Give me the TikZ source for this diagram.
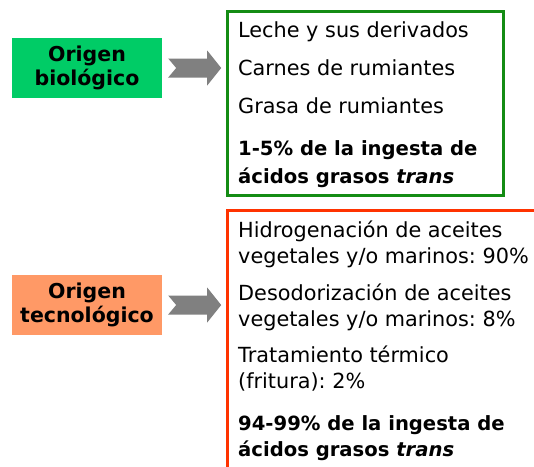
\documentclass[tikz,border=0pt]{standalone}
\usepackage{fontspec}
\setmainfont{DejaVu Sans}
\frenchspacing
\definecolor{biogreen}{RGB}{0,204,102}
\definecolor{tecorange}{RGB}{255,153,102}
\definecolor{boxgreen}{RGB}{20,140,20}
\definecolor{boxred}{RGB}{255,51,0}
\definecolor{arrowgray}{RGB}{128,128,128}
\begin{document}
\begin{tikzpicture}[x=1pt,y=-1pt,
  origin/.style={minimum width=150pt, minimum height=60pt, inner sep=0pt, align=center,
    font=\fontsize{20.5}{24}\selectfont\bfseries},
  listbox/.style={draw, line width=3pt, inner sep=0pt},
  item/.style={anchor=base west, inner sep=0pt, font=\fontsize{20.8}{24}\selectfont},
  bolditem/.style={item, font=\fontsize{19.6}{24}\selectfont\bfseries},
  blockarrow/.style={fill=arrowgray}]
\useasboundingbox (0,0) rectangle (534,466);
\clip (0,0) rectangle (534,466);
\fill[white] (0,0) rectangle (534,466);

% left labels
\node[origin, fill=biogreen] (bio) at (87,68) {Origen\\biológico};
\node[origin, fill=tecorange] (tec) at (87,305) {Origen\\tecnológico};

% outline boxes
\node[listbox, draw=boxgreen, minimum width=276pt, minimum height=184pt] (gbox) at (365,103) {};
\node[listbox, draw=boxred, minimum width=333pt, minimum height=290pt] (rbox) at (393.5,355) {};

% block arrows
\begin{scope}[shift={(bio.east)}]
\fill[blockarrow] (6,-9.5) -- (45,-9.5) -- (45,-17.5) -- (59,0) -- (45,17.5) -- (45,9.5) -- (6,9.5) -- (14,0) -- cycle;
\end{scope}
\begin{scope}[shift={(tec.east)}]
\fill[blockarrow] (6,-9.5) -- (45,-9.5) -- (45,-17.5) -- (59,0) -- (45,17.5) -- (45,9.5) -- (6,9.5) -- (14,0) -- cycle;
\end{scope}

% green list
\node[item] (g1) at (238,37) {Leche y sus derivados};
\node[item] (g2) at (238,75) {Carnes de rumiantes};
\node[item] (g3) at (238,113) {Grasa de rumiantes};
\node[bolditem] (g4) at (238,155) {1-5\% de la ingesta de};
\node[bolditem] (g5) at (238,183) {ácidos grasos \textit{trans}};

% red list
\node[item] (r1) at (238,237) {Hidrogenación de aceites};
\node[item] (r2) at (238,263) {vegetales y/o marinos: 90\%};
\node[item] (r3) at (238,300) {Desodorización de aceites};
\node[item] (r4) at (238,326) {vegetales y/o marinos: 8\%};
\node[item] (r5) at (238,362) {Tratamiento térmico};
\node[item] (r6) at (238,388) {(fritura): 2\%};
\node[bolditem] (r7) at (238,430) {94-99\% de la ingesta de};
\node[bolditem] (r8) at (238,456) {ácidos grasos \textit{trans}};
\end{tikzpicture}
\end{document}
